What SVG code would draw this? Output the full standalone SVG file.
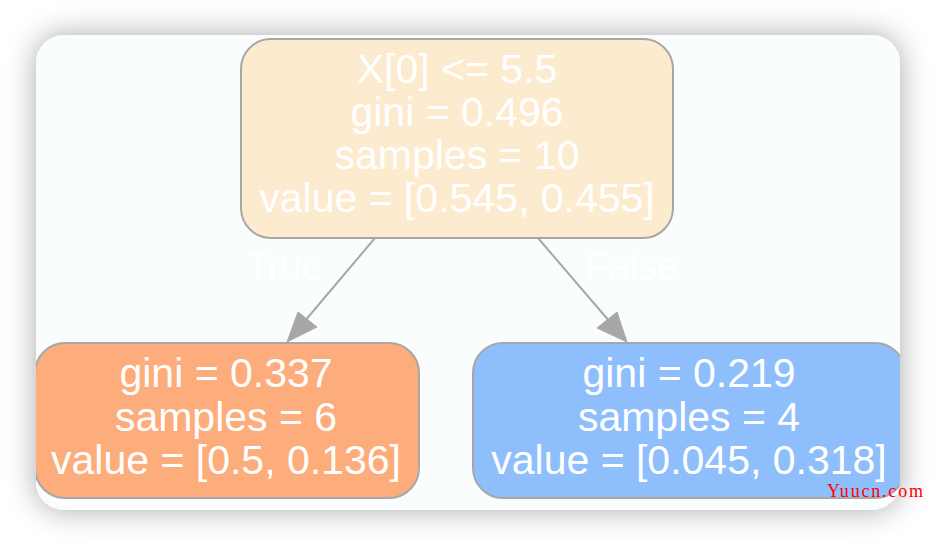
<svg xmlns="http://www.w3.org/2000/svg" width="936" height="546" viewBox="0 0 936 546">
<defs>
<style>
.node-text{font-family:"Liberation Sans",Arial,sans-serif;font-size:41px;fill:#ffffff;text-anchor:middle}
.edge-label{font-family:"Liberation Sans",Arial,sans-serif;font-size:38px;fill:#ffffff;text-anchor:middle}
.box{stroke:#a9a7a6;stroke-width:2}
.edge{stroke:#a9a7a6;stroke-width:2;fill:none}
.head{fill:#a9a7a6;stroke:#a9a7a6;stroke-width:1}
</style>
<filter id="shadow" x="-10%" y="-15%" width="120%" height="130%">
<feDropShadow dx="0" dy="0" stdDeviation="15" flood-color="#000000" flood-opacity="0.34"/>
</filter>
<clipPath id="card-clip">
<rect x="36" y="35" width="864" height="475" rx="28" ry="28"/>
</clipPath>
</defs>
<rect x="0" y="0" width="936" height="546" fill="#ffffff"/>
<rect id="card" x="36" y="35" width="864" height="475" rx="28" ry="28" fill="#f9fdfe" filter="url(#shadow)"/>
<g clip-path="url(#card-clip)">
<g id="connectors">
<line class="edge" x1="375" y1="238" x2="304" y2="322"/>
<polygon class="head" points="287,342 298,312 317,327"/>
<line class="edge" x1="538" y1="238" x2="610" y2="322"/>
<polygon class="head" points="627,342 597,328 617,312"/>
<text class="edge-label" x="284" y="280">True</text>
<text class="edge-label" x="632" y="280">False</text>
</g>
<g id="node-root">
<rect class="box" x="241" y="39" width="432" height="199" rx="30" ry="30" fill="#fdebd0"/>
<text class="node-text" x="457" y="82.5">X[0] &lt;= 5.5</text>
<text class="node-text" x="457" y="125.5">gini = 0.496</text>
<text class="node-text" x="457" y="168.5">samples = 10</text>
<text class="node-text" x="457" y="211.5">value = [0.545, 0.455]</text>
</g>
<g id="node-left">
<rect class="box" x="35" y="343" width="384" height="155" rx="30" ry="30" fill="#fdad7b"/>
<text class="node-text" x="226" y="387">gini = 0.337</text>
<text class="node-text" x="226" y="430.5">samples = 6</text>
<text class="node-text" x="226" y="474">value = [0.5, 0.136]</text>
</g>
<g id="node-right">
<rect class="box" x="473" y="343" width="432" height="155" rx="30" ry="30" fill="#8ebefc"/>
<text class="node-text" x="689" y="387">gini = 0.219</text>
<text class="node-text" x="689" y="430.5">samples = 4</text>
<text class="node-text" x="689" y="474">value = [0.045, 0.318]</text>
</g>
</g>
<text x="827" y="497" font-family="'Liberation Serif','Times New Roman',serif" font-size="18" fill="#ff0000" textLength="96" lengthAdjust="spacing">Yuucn.com</text>
</svg>
